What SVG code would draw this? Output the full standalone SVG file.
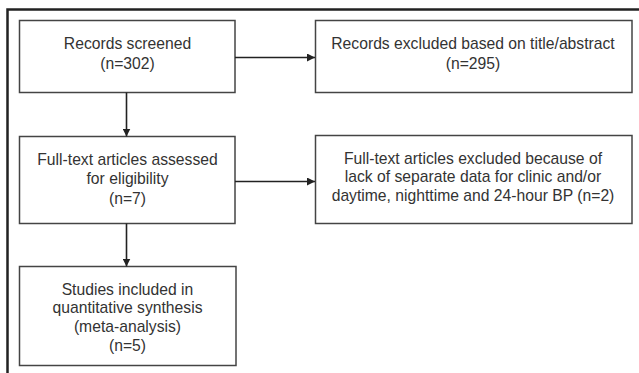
<svg xmlns="http://www.w3.org/2000/svg" width="639" height="373" viewBox="0 0 639 373">
<defs>
<style>
.box{fill:#fff;stroke:#444;stroke-width:1.5}
.t{font-family:"Liberation Sans",Arial,sans-serif;font-size:15.7px;fill:#333;text-anchor:middle}
.c{stroke:#222;stroke-width:1.6;fill:none}
</style>
<marker id="ah" viewBox="0 0 10 10" refX="10" refY="5" markerWidth="8" markerHeight="8" markerUnits="userSpaceOnUse" orient="auto"><path d="M0,0 L10,5 L0,10 z" fill="#222"/></marker>
</defs>
<rect x="0" y="0" width="639" height="373" fill="#fff"/>
<path d="M7.5,373 V9.5 H639" fill="none" stroke="#222" stroke-width="2.5"/>
<g id="n1"><rect class="box" x="19.5" y="20.5" width="215.5" height="72"/>
<text class="t" x="127.5" y="49">Records screened</text><text class="t" x="127.5" y="68.5">(n=302)</text></g>
<g id="n2"><rect class="box" x="315.5" y="20.5" width="316.5" height="72"/>
<text class="t" x="473" y="49">Records excluded based on title/abstract</text><text class="t" x="473" y="68.5">(n=295)</text></g>
<g id="n3"><rect class="box" x="19.5" y="136.5" width="215.5" height="87"/>
<text class="t" x="127.5" y="165">Full-text articles assessed</text><text class="t" x="127.5" y="184">for eligibility</text><text class="t" x="127.5" y="203.5">(n=7)</text></g>
<g id="n4"><rect class="box" x="315.5" y="135.5" width="316.5" height="88"/>
<text class="t" x="473" y="163.5">Full-text articles excluded because of</text><text class="t" x="473" y="182">lack of separate data for clinic and/or</text><text class="t" x="473" y="201">daytime, nighttime and 24-hour BP (n=2)</text></g>
<g id="n5"><rect class="box" x="19.5" y="266.5" width="216.5" height="99"/>
<text class="t" x="127.5" y="294.5">Studies included in</text><text class="t" x="127.5" y="313">quantitative synthesis</text><text class="t" x="127.5" y="332">(meta-analysis)</text><text class="t" x="127.5" y="350.5">(n=5)</text></g>
<g id="connectors">
<line class="c" x1="235" y1="57.5" x2="315" y2="57.5" marker-end="url(#ah)"/>
<line class="c" x1="235" y1="181.5" x2="315" y2="181.5" marker-end="url(#ah)"/>
<line class="c" x1="126.5" y1="92.5" x2="126.5" y2="136.5" marker-end="url(#ah)"/>
<line class="c" x1="126.5" y1="223.5" x2="126.5" y2="266.5" marker-end="url(#ah)"/>
</g>
</svg>
